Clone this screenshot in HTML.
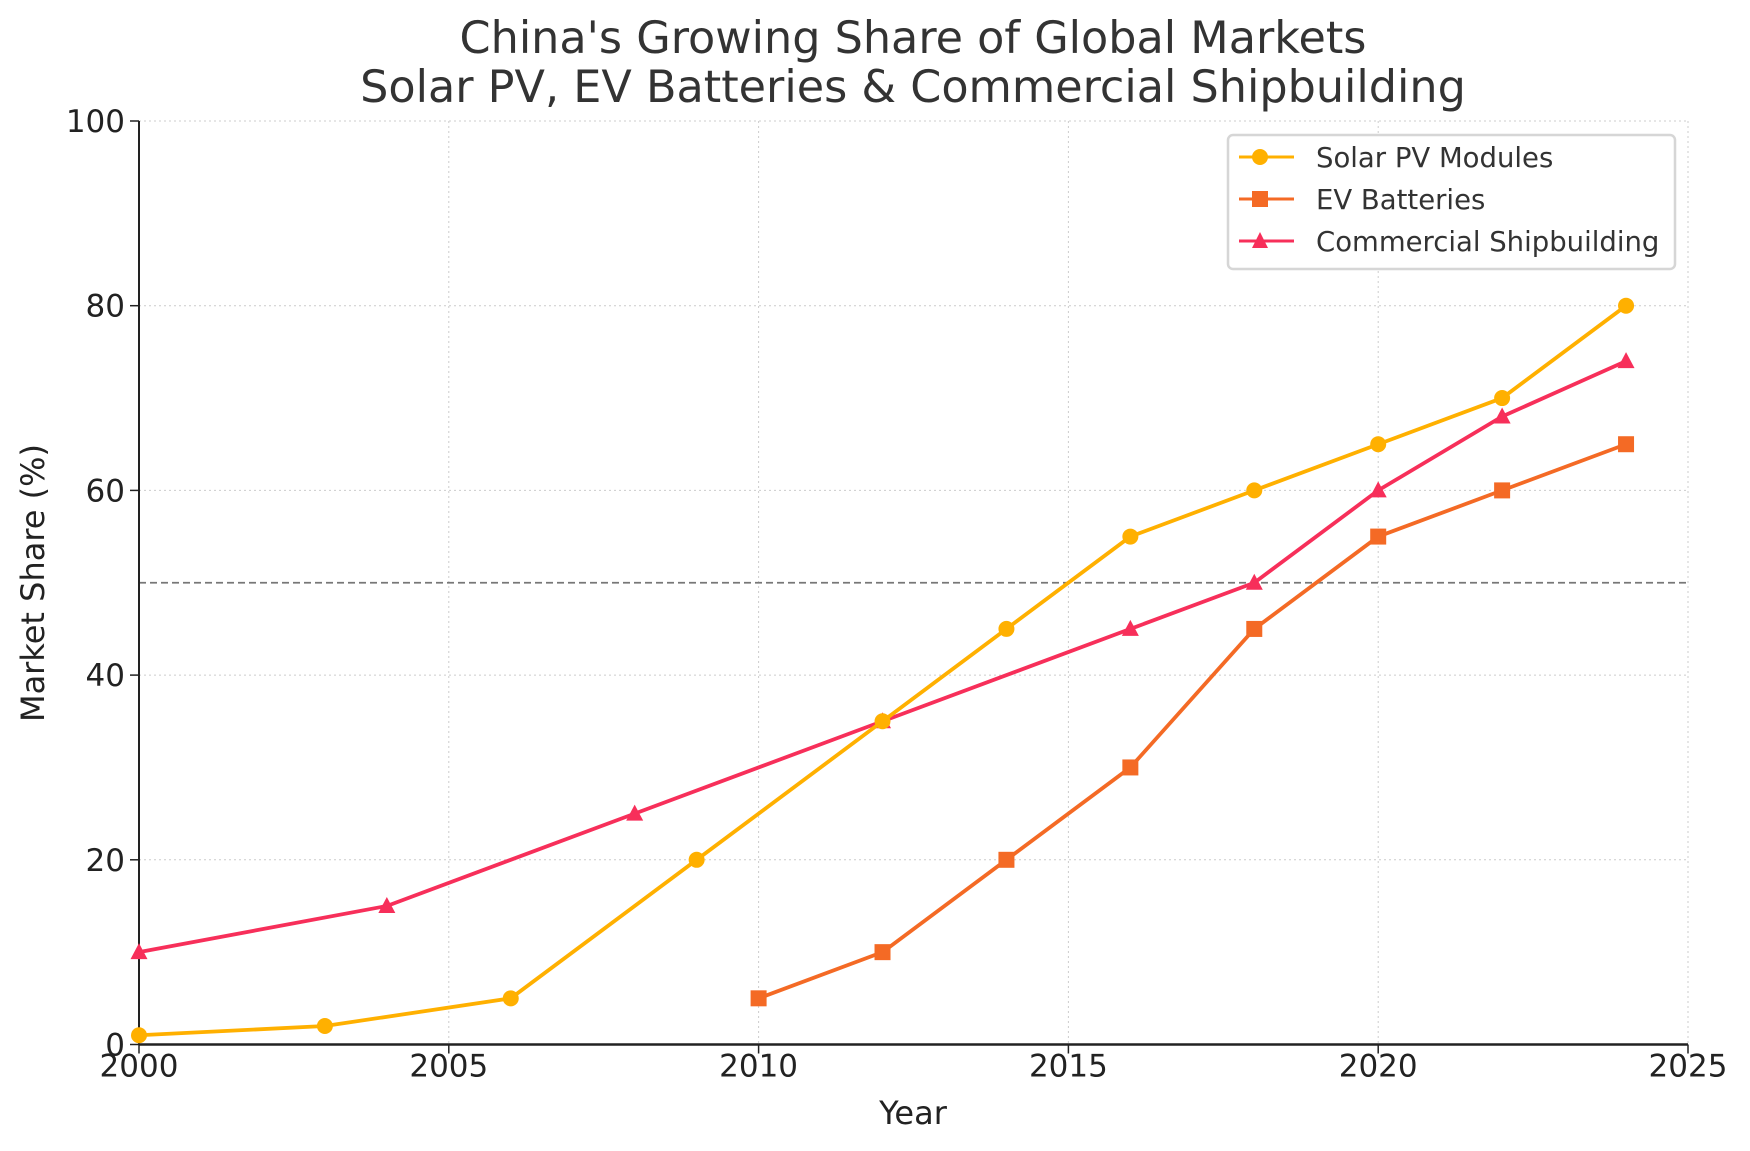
<!DOCTYPE html>
<html><head><meta charset="utf-8"><style>
html,body{margin:0;padding:0;background:#fff;}
svg{display:block;font-family:"DejaVu Sans","Liberation Sans",sans-serif;}
</style></head><body>
<svg id="chart" width="1750" height="1151" viewBox="0 0 1750 1151">
<text x="913" y="53" text-anchor="middle" font-size="44.5" fill="#333">China's Growing Share of Global Markets</text>
<text x="913" y="102" text-anchor="middle" font-size="44.5" fill="#333">Solar PV, EV Batteries &amp; Commercial Shipbuilding</text>
<g id="grid"></g>
<g id="axes"></g>
<g id="series"></g>
<text x="913" y="1124" text-anchor="middle" font-size="32" fill="#222">Year</text>
<text transform="translate(44,583) rotate(-90)" text-anchor="middle" font-size="32" fill="#222">Market Share (%)</text>
<g transform="translate(-6,0)">
<rect x="1234" y="135" width="447" height="134" rx="5" fill="#fff" stroke="#d6d6d6" stroke-width="2.5"/>
<g><line x1="1245" y1="157" x2="1300" y2="157" stroke="#FFB000" stroke-width="3"/><circle cx="1266" cy="157" r="8" fill="#FFB000"/><text x="1322" y="167" font-size="27.5" fill="#333">Solar PV Modules</text></g>
<g><line x1="1245" y1="199" x2="1300" y2="199" stroke="#F46A25" stroke-width="3"/><rect x="1258" y="191" width="16" height="16" fill="#F46A25"/><text x="1322" y="209" font-size="27.5" fill="#333">EV Batteries</text></g>
<g><line x1="1245" y1="241" x2="1300" y2="241" stroke="#F72F5A" stroke-width="3"/><polygon points="1266,232 1274,248 1258,248" fill="#F72F5A"/><text x="1322" y="251" font-size="27.5" fill="#333">Commercial Shipbuilding</text></g>
</g>
</svg>
<script>
const solarYears=[2000,2003,2006,2009,2012,2014,2016,2018,2020,2022,2024];
const solarValues=[1,2,5,20,35,45,55,60,65,70,80];
const evYears=[2010,2012,2014,2016,2018,2020,2022,2024];
const evValues=[5,10,20,30,45,55,60,65];
const shipYears=[2000,2004,2008,2012,2016,2018,2020,2022,2024];
const shipValues=[10,15,25,35,45,50,60,68,74];
const xTicks=[2000,2005,2010,2015,2020,2025];
const yTicks=[0,20,40,60,80,100];
const refValue=50;

const NS='http://www.w3.org/2000/svg';
const X0=139,X1=1688,Y0=1044.5,Y1=121;
function xs(v){return X0+(v-2000)/25*(X1-X0);}
function ys(v){return Y0-v/100*(Y0-Y1);}
function mk(tag,attrs,parent){const e=document.createElementNS(NS,tag);for(const k in attrs)e.setAttribute(k,attrs[k]);parent.appendChild(e);return e;}
const grid=document.getElementById('grid'),axes=document.getElementById('axes'),series=document.getElementById('series');
xTicks.forEach(t=>{
 const l=mk('line',{x1:xs(t),x2:xs(t),y1:Y1,y2:Y0,stroke:'#ccc','stroke-width':1,'stroke-dasharray':'2,3'},grid);
 
 
 mk('line',{x1:xs(t),x2:xs(t),y1:Y0,y2:Y0+9,stroke:'#222','stroke-width':1.5},axes);
 const tx=mk('text',{x:xs(t),y:Y0+32,'text-anchor':'middle','font-size':31,fill:'#222'},axes);
 tx.textContent=t;
 
 
});
yTicks.forEach(t=>{
 const l=mk('line',{x1:X0,x2:X1,y1:ys(t),y2:ys(t),stroke:'#ccc','stroke-width':1,'stroke-dasharray':'2,3'},grid);
 
 
 mk('line',{x1:X0-9,x2:X0,y1:ys(t),y2:ys(t),stroke:'#222','stroke-width':1.5},axes);
 const tx=mk('text',{x:X0-14,y:ys(t)+11,'text-anchor':'end','font-size':31,fill:'#222'},axes);
 tx.textContent=t;
 
 
});
const ref=mk('line',{x1:X0,x2:X1,y1:ys(refValue),y2:ys(refValue),stroke:'#777','stroke-width':1.8,'stroke-dasharray':'7,4'},grid);


mk('line',{x1:X0,x2:X0,y1:Y1,y2:Y0,stroke:'#222','stroke-width':2},axes);
mk('line',{x1:X0,x2:X1,y1:Y0,y2:Y0,stroke:'#222','stroke-width':2.5},axes);
function draw(years,vals,color,shape,name){
 const pl=mk('polyline',{points:years.map((y,i)=>xs(y)+','+ys(vals[i])).join(' '),fill:'none',stroke:color,'stroke-width':3.8,'stroke-linejoin':'round'},series);
 
 
 years.forEach((y,i)=>{
  const cx=xs(y),cy=ys(vals[i]);let m;
  if(shape==='c')m=mk('circle',{cx:cx,cy:cy,r:8,fill:color},series);
  else if(shape==='s')m=mk('rect',{x:cx-8,y:cy-8,width:16,height:16,fill:color},series);
  else m=mk('polygon',{points:`${cx},${cy-9} ${cx+8.5},${cy+7} ${cx-8.5},${cy+7}`,fill:color},series);
  
  
 });
}
draw(shipYears,shipValues,'#F72F5A','t','shipbuilding');
draw(evYears,evValues,'#F46A25','s','ev-batteries');
draw(solarYears,solarValues,'#FFB000','c','solar-pv');
</script>
</body></html>
